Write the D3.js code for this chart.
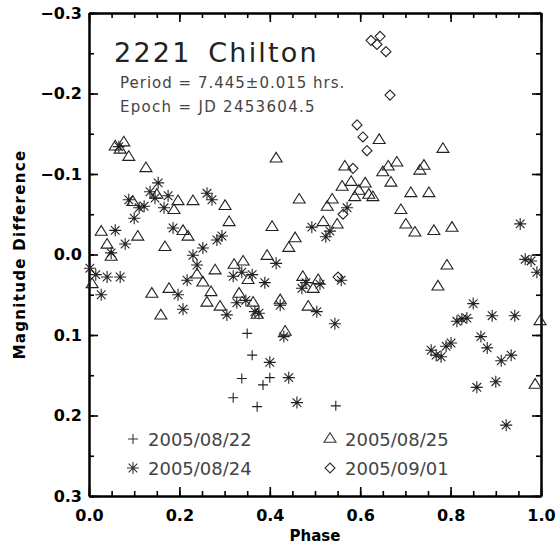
<html>
<head>
<meta charset="utf-8">
<script src="https://d3js.org/d3.v7.min.js"></script>
<style type="text/css">
body { margin: 0; background-color: white; }
svg { display: block; }
</style>
</head>
<body>
<script>
// [phase, magnitude difference]
let obs0822 = [
    [0.350, 0.098], [0.361, 0.125], [0.338, 0.154], [0.400, 0.153],
    [0.385, 0.162], [0.319, 0.178], [0.372, 0.189], [0.546, 0.188]
];

let obs0824 = [
    [0.066, -0.134], [0.135, -0.078], [0.153, -0.089], [0.146, -0.070], [0.088, -0.068],
    [0.100, -0.045], [0.111, -0.058], [0.122, -0.060], [0.166, -0.058], [0.175, -0.073],
    [0.261, -0.076], [0.272, -0.068], [0.058, -0.030], [0.080, -0.013], [0.049, -0.002],
    [0.186, -0.033], [0.283, -0.018], [0.294, -0.023], [0.230, 0.001], [0.252, -0.008],
    [0.239, 0.013], [0.217, 0.032], [0.002, 0.017], [0.015, 0.025], [0.040, 0.028],
    [0.069, 0.028], [0.027, 0.050], [0.197, 0.050], [0.208, 0.068],
    [0.493, -0.034], [0.533, -0.029], [0.524, -0.022], [0.571, -0.058], [0.414, 0.011],
    [0.319, 0.027], [0.338, 0.022], [0.361, 0.025], [0.389, 0.035], [0.480, 0.035],
    [0.471, 0.042], [0.511, 0.037], [0.558, 0.032], [0.327, 0.060], [0.347, 0.057],
    [0.423, 0.063], [0.305, 0.075], [0.376, 0.073], [0.367, 0.071], [0.431, 0.102],
    [0.504, 0.071], [0.544, 0.086], [0.400, 0.134], [0.442, 0.153], [0.460, 0.184],
    [0.954, -0.038], [0.965, 0.006], [0.978, 0.008], [0.991, 0.022],
    [0.850, 0.061], [0.892, 0.076], [0.942, 0.076], [0.814, 0.083], [0.825, 0.080],
    [0.836, 0.079], [0.867, 0.102], [0.881, 0.116], [0.912, 0.132], [0.934, 0.125],
    [0.757, 0.119], [0.768, 0.125], [0.779, 0.127], [0.790, 0.114], [0.801, 0.110],
    [0.858, 0.165], [0.900, 0.158], [0.923, 0.212]
];

let obs0825 = [
    [0.058, -0.134], [0.077, -0.139], [0.069, -0.130], [0.088, -0.121], [0.126, -0.107],
    [0.027, -0.028], [0.040, -0.012], [0.049, 0.003], [0.108, -0.022], [0.168, -0.009],
    [0.197, -0.066], [0.230, -0.066], [0.188, -0.055], [0.208, -0.029], [0.219, -0.022],
    [0.301, -0.060], [0.310, -0.040], [0.279, 0.020], [0.239, 0.025], [0.252, 0.035],
    [0.270, 0.047], [0.139, 0.049], [0.177, 0.043], [0.261, 0.060], [0.290, 0.065],
    [0.007, 0.037], [0.097, -0.065], [0.150, -0.074], [0.414, -0.119], [0.465, -0.068],
    [0.405, -0.034], [0.456, -0.020], [0.442, -0.008], [0.394, 0.002], [0.321, 0.013],
    [0.341, 0.009], [0.352, 0.032], [0.332, 0.049], [0.363, 0.060], [0.423, 0.057],
    [0.485, 0.065], [0.473, 0.028], [0.507, 0.032], [0.496, 0.043], [0.538, -0.068],
    [0.527, -0.059], [0.518, -0.040], [0.549, -0.037], [0.566, -0.109], [0.580, -0.090],
    [0.560, -0.084], [0.611, -0.088], [0.597, -0.079], [0.588, -0.071], [0.619, -0.074],
    [0.628, -0.071], [0.642, -0.142], [0.650, -0.102], [0.662, -0.109], [0.668, -0.089],
    [0.783, -0.131], [0.681, -0.114], [0.732, -0.104], [0.741, -0.110], [0.712, -0.076],
    [0.752, -0.076], [0.690, -0.055], [0.701, -0.037], [0.721, -0.027], [0.763, -0.029],
    [0.803, -0.033], [0.792, 0.014], [0.772, 0.040], [0.998, 0.083], [0.987, 0.162],
    [0.159, 0.076], [0.372, 0.075], [0.434, 0.096]
];

let obs0901 = [
    [0.624, -0.266], [0.637, -0.261], [0.644, -0.271], [0.657, -0.252], [0.666, -0.198],
    [0.593, -0.161], [0.606, -0.146], [0.615, -0.129], [0.584, -0.107], [0.562, -0.050],
    [0.551, 0.028]
];

let legendLabels = ["2005/08/22", "2005/08/24", "2005/08/25", "2005/09/01"];
let xTicks = [0, 0.2, 0.4, 0.6, 0.8, 1.0];
let yTicks = [-0.3, -0.2, -0.1, 0.0, 0.1, 0.2, 0.3];
let titleText = "2221 Chilton";
let periodText = "Period = 7.445\u00b10.015 hrs.";
let epochText = "Epoch = JD 2453604.5";

function init() {
    let width = 558;
    let height = 545;
    let left = 89, right = 541, top = 13, bottom = 496;

    let svg = d3.select("body").append("svg")
        .attr("width", width).attr("height", height)
        .attr("viewBox", [0, 0, width, height]);

    let xScale = d3.scaleLinear().domain([0, 1]).range([left, right]);
    let yScale = d3.scaleLinear().domain([-0.3, 0.3]).range([top, bottom]);

    // symbol paths, IDL style
    let sym = {
        plus: r => `M${-r},0H${r}M0,${-r}V${r}`,
        star: r => {
            let d = r * 0.72;
            return `M${-r},0H${r}M0,${-r}V${r}M${-d},${-d}L${d},${d}M${-d},${d}L${d},${-d}`;
        },
        triangle: r => `M${-r},${r * 0.55}L${r},${r * 0.55}L0,${-r * 1.05}Z`,
        diamond: r => `M0,${-r}L${r},0L0,${r}L${-r},0Z`
    };

    let series = [
        {data: obs0822, path: sym.plus(5), label: legendLabels[0]},
        {data: obs0824, path: sym.star(6), label: legendLabels[1]},
        {data: obs0825, path: sym.triangle(6), label: legendLabels[2]},
        {data: obs0901, path: sym.diamond(5), label: legendLabels[3]}
    ];

    let fmt = d3.format(".1f");

    // axes: ticks point inward on all four sides
    let minorX = d3.range(0, 1.0001, 0.05);
    let minorY = d3.range(-0.3, 0.3001, 0.05);

    function styleAxis(g) {
        g.select(".domain").attr("stroke", "#000").attr("stroke-width", 2);
        g.selectAll(".tick line").attr("stroke", "#000").attr("stroke-width", 1.6);
        g.selectAll(".tick text")
            .attr("font-family", "DejaVu Sans")
            .attr("font-weight", "bold")
            .attr("font-size", "16px")
            .attr("fill", "#000");
    }

    svg.append("g").attr("transform", `translate(0,${bottom})`)
        .call(d3.axisBottom(xScale).tickValues(minorX).tickSize(-5).tickFormat("").tickSizeOuter(0))
        .call(styleAxis);
    svg.append("g").attr("transform", `translate(0,${bottom})`)
        .call(d3.axisBottom(xScale).tickValues(xTicks).tickSize(-9).tickSizeOuter(0)
            .tickPadding(14).tickFormat(fmt))
        .call(styleAxis);
    svg.append("g").attr("transform", `translate(0,${top})`)
        .call(d3.axisTop(xScale).tickValues(minorX).tickSize(-5).tickFormat("").tickSizeOuter(0))
        .call(styleAxis);
    svg.append("g").attr("transform", `translate(0,${top})`)
        .call(d3.axisTop(xScale).tickValues(xTicks).tickSize(-9).tickFormat("").tickSizeOuter(0))
        .call(styleAxis);

    svg.append("g").attr("transform", `translate(${left},0)`)
        .call(d3.axisLeft(yScale).tickValues(minorY).tickSize(-5).tickFormat("").tickSizeOuter(0))
        .call(styleAxis);
    svg.append("g").attr("transform", `translate(${left},0)`)
        .call(d3.axisLeft(yScale).tickValues(yTicks).tickSize(-9).tickSizeOuter(0)
            .tickPadding(7).tickFormat(fmt))
        .call(styleAxis);
    svg.append("g").attr("transform", `translate(${right},0)`)
        .call(d3.axisRight(yScale).tickValues(minorY).tickSize(-5).tickFormat("").tickSizeOuter(0))
        .call(styleAxis);
    svg.append("g").attr("transform", `translate(${right},0)`)
        .call(d3.axisRight(yScale).tickValues(yTicks).tickSize(-9).tickFormat("").tickSizeOuter(0))
        .call(styleAxis);

    // data points
    series.forEach(s => {
        svg.append("g").selectAll("path")
            .data(s.data)
            .enter()
            .append("path")
            .attr("d", s.path)
            .attr("transform", d => `translate(${xScale(d[0])},${yScale(d[1])})`)
            .attr("fill", "none")
            .attr("stroke", "#222")
            .attr("stroke-width", 1.1);
    });

    // axis titles
    svg.append("text")
        .attr("x", (left + right) / 2)
        .attr("y", 541)
        .attr("text-anchor", "middle")
        .attr("font-family", "DejaVu Sans")
        .attr("font-weight", "bold")
        .attr("font-size", "15px")
        .text("Phase");
    svg.append("text")
        .attr("transform", `translate(25,${(top + bottom) / 2}) rotate(-90)`)
        .attr("text-anchor", "middle")
        .attr("font-family", "DejaVu Sans")
        .attr("font-weight", "bold")
        .attr("font-size", "15px")
        .attr("letter-spacing", "1.3px")
        .text("Magnitude Difference");

    // annotations
    svg.append("text")
        .attr("x", 114).attr("y", 62)
        .attr("font-family", "DejaVu Sans")
        .attr("font-size", "27px")
        .attr("letter-spacing", "2.2px")
        .attr("word-spacing", "6px")
        .attr("fill", "#222")
        .text(titleText);
    svg.append("text")
        .attr("x", 120).attr("y", 88)
        .attr("font-family", "DejaVu Sans")
        .attr("font-size", "15px")
        .attr("letter-spacing", "1px")
        .attr("fill", "#444")
        .text(periodText);
    svg.append("text")
        .attr("x", 120).attr("y", 112)
        .attr("font-family", "DejaVu Sans")
        .attr("font-size", "15px")
        .attr("letter-spacing", "1.3px")
        .attr("fill", "#444")
        .text(epochText);

    // legend, two columns
    let legendPos = [[133, 439], [133, 468], [330, 439], [330, 468]];
    let legend = svg.append("g").selectAll("g")
        .data(series)
        .enter()
        .append("g")
        .attr("transform", (d, i) => `translate(${legendPos[i][0]},${legendPos[i][1]})`);
    legend.append("path")
        .attr("d", d => d.path)
        .attr("fill", "none")
        .attr("stroke", "#333")
        .attr("stroke-width", 1.1);
    legend.append("text")
        .attr("x", 15)
        .attr("y", 7)
        .attr("font-family", "DejaVu Sans")
        .attr("font-size", "18px")
        .attr("fill", "#444")
        .text(d => d.label);
}
init();
</script>
</body>
</html>
